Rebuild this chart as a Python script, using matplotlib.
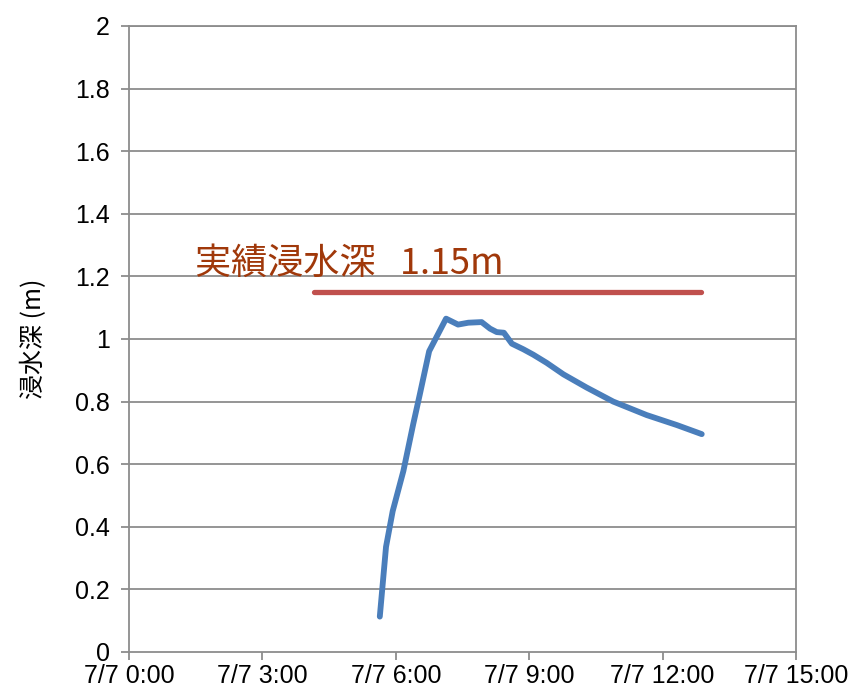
import matplotlib
matplotlib.use("Agg")
import matplotlib.pyplot as plt

plt.rcParams['font.family'] = ['Noto Sans CJK JP', 'DejaVu Sans']

# 浸水深の時系列 (7/7 0:00 からの経過時間 [h], 浸水深 [m])
hours = [5.64, 5.78, 5.93, 6.17, 6.39, 6.54, 6.75, 7.13, 7.40, 7.63, 7.93,
         8.12, 8.27, 8.43, 8.61, 8.87, 9.09, 9.39, 9.77, 10.29, 10.89,
         11.64, 12.32, 12.88]
depth = [0.113, 0.336, 0.450, 0.578, 0.727, 0.823, 0.961, 1.065, 1.046, 1.052,
         1.054, 1.033, 1.022, 1.020, 0.985, 0.967, 0.950, 0.924, 0.887, 0.845,
         0.800, 0.757, 0.725, 0.696]

# 実績浸水深
actual_depth = 1.15
actual_span = [4.15, 12.87]
actual_label = "実績浸水深   1.15m"

x_ticks = [0, 3, 6, 9, 12, 15]
x_labels = ["7/7 0:00", "7/7 3:00", "7/7 6:00", "7/7 9:00", "7/7 12:00", "7/7 15:00"]
y_ticks = [0, 0.2, 0.4, 0.6, 0.8, 1.0, 1.2, 1.4, 1.6, 1.8, 2.0]
y_labels = ["0", "0.2", "0.4", "0.6", "0.8", "1", "1.2", "1.4", "1.6", "1.8", "2"]

fig = plt.figure(figsize=(8.6, 6.95), dpi=100)
ax = fig.add_axes([0.15, 0.0619, 0.7756, 0.9007])

grid_col = '#8c8c8c'
ax.set_xlim(0, 15)
ax.set_ylim(0, 2)
for y in y_ticks[1:]:
    ax.axhline(y, color=grid_col, lw=1.3, zorder=1)

ax.plot(actual_span, [actual_depth, actual_depth], color='#C0504D', lw=3.8,
        solid_capstyle='round', zorder=3)
ax.plot(hours, depth, color='#4A7EBB', lw=4.2, solid_capstyle='round',
        solid_joinstyle='round', zorder=4)

ax.text(1.48, 1.208, actual_label, color='#A0380A', fontsize=26,
        va='baseline', ha='left')

tick_font = ['Liberation Sans Narrow', 'Liberation Sans', 'DejaVu Sans']
ax.set_xticks(x_ticks)
ax.set_xticklabels(x_labels, family=tick_font, fontsize=18)
ax.set_yticks(y_ticks)
ax.set_yticklabels(y_labels, family=tick_font, fontsize=18)
ax.tick_params(axis='both', direction='out', length=6, width=1.3, color=grid_col)
ax.tick_params(axis='y', pad=8)
ax.tick_params(axis='x', pad=3)

for side in ['left', 'bottom', 'right', 'top']:
    ax.spines[side].set_color(grid_col)
    ax.spines[side].set_linewidth(1.3)

ax.set_ylabel("浸水深 (m)", fontsize=18, labelpad=20)

fig.savefig("out.png", dpi=100)
